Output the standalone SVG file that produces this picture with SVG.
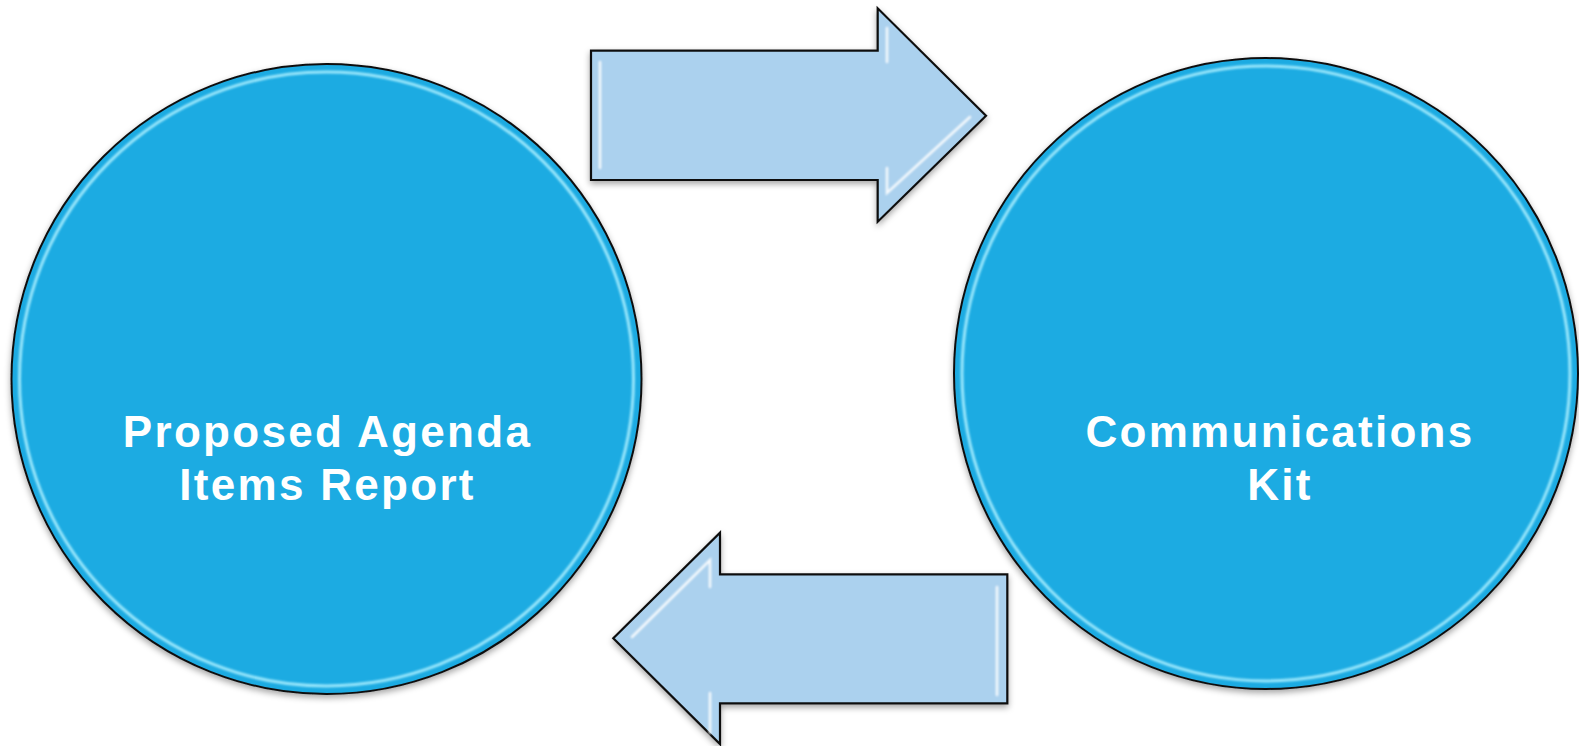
<svg xmlns="http://www.w3.org/2000/svg" width="1579" height="746" viewBox="0 0 1579 746">
<style>
.circ{fill:#1fabe2;stroke:#111;stroke-width:2}
.ring{fill:none;stroke:#a8eeff;stroke-width:3;opacity:0.9}
.arr{fill:#abd1ee;stroke:#111;stroke-width:2.2;stroke-linejoin:miter}
.hl{fill:none;stroke:#ffffff;stroke-width:2.5;opacity:0.9;stroke-linecap:round}
.lbl{font-family:"Liberation Sans",Arial,sans-serif;font-weight:bold;font-size:44px;letter-spacing:2.3px;fill:#ffffff;text-anchor:middle}
</style>
<defs>
<filter id="sh" x="-10%" y="-10%" width="120%" height="125%">
<feDropShadow dx="0" dy="3" stdDeviation="3" flood-color="#000" flood-opacity="0.35"/>
</filter>
<filter id="bl" x="-5%" y="-5%" width="110%" height="110%">
<feGaussianBlur stdDeviation="0.8"/>
</filter>
</defs>
<rect width="1579" height="746" fill="#ffffff"/>
<g id="node-proposed">
<circle class="circ" cx="326.5" cy="379" r="315" filter="url(#sh)"/>
<circle class="ring" cx="326.5" cy="379" r="307" filter="url(#bl)"/>
<text class="lbl" x="327.5" y="446.5">Proposed Agenda</text>
<text class="lbl" x="327.5" y="500">Items Report</text>
</g>
<g id="node-kit">
<ellipse class="circ" cx="1266" cy="373.5" rx="312" ry="315.5" filter="url(#sh)"/>
<ellipse class="ring" cx="1266" cy="373.5" rx="304" ry="307.5" filter="url(#bl)"/>
<text class="lbl" x="1280" y="446.5">Communications</text>
<text class="lbl" x="1280" y="500">Kit</text>
</g>
<g id="connectors">
<g id="arrow-right">
<polygon class="arr" points="591,50.7 877.7,50.7 877.7,8.3 986,115.7 877.7,221.7 877.7,180 591,180" filter="url(#sh)"/>
<g filter="url(#bl)">
<polyline class="hl" points="600,62 600,168"/>
<polyline class="hl" points="887,28 887,62"/>
<polyline class="hl" points="887,168 887,193 970,117"/>
</g>
</g>
<g id="arrow-left">
<polygon class="arr" points="1007.3,574.3 720,574.3 720,532.7 613.3,638.3 720,744 720,703.3 1007.3,703.3" filter="url(#sh)"/>
<g filter="url(#bl)">
<polyline class="hl" points="632,637 710,560 710,587"/>
<polyline class="hl" points="710,693 710,733"/>
<polyline class="hl" points="997,587 997,695"/>
</g>
</g>
</g>
</svg>
